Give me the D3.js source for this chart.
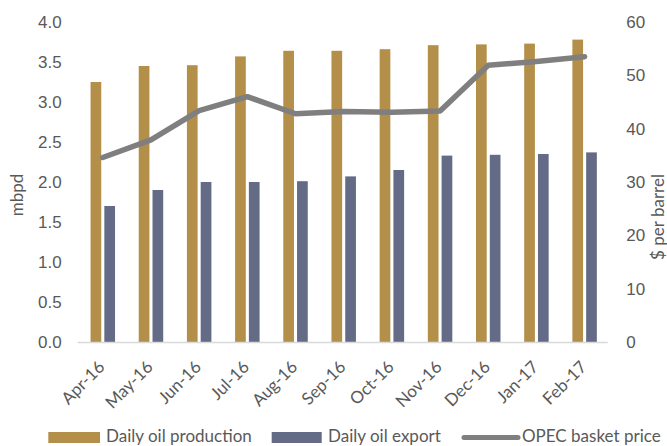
<!DOCTYPE html>
<html>
<head>
<meta charset="utf-8">
<script src="https://cdn.jsdelivr.net/npm/d3@7"></script>
<style>
  html, body { margin: 0; padding: 0; background: #fff; }
  svg { display: block; font-family: Lato, "Open Sans", sans-serif; }
  .tick-label { fill: #595959; font-size: 17px; }
</style>
</head>
<body>
<svg id="chart" width="667" height="446"></svg>
<script>
// Monthly figures, April 2016 to February 2017
const months = ["Apr-16", "May-16", "Jun-16", "Jul-16", "Aug-16", "Sep-16",
                "Oct-16", "Nov-16", "Dec-16", "Jan-17", "Feb-17"];
const production = [3.25, 3.45, 3.46, 3.57, 3.64, 3.64, 3.66, 3.71, 3.72, 3.73, 3.78]; // mbpd
const exports_ = [1.70, 1.90, 2.00, 2.00, 2.01, 2.07, 2.15, 2.33, 2.34, 2.35, 2.37];   // mbpd
const basketPrice = [34.6, 37.9, 43.4, 46.0, 42.8, 43.2, 43.1, 43.3, 51.9, 52.6, 53.5]; // $ per barrel
const leftTicks = [0, 0.5, 1.0, 1.5, 2.0, 2.5, 3.0, 3.5, 4.0];
const rightTicks = [0, 10, 20, 30, 40, 50, 60];

const colors = { production: "#B38F4A", exports: "#636B86", price: "#7F7F7F" };

const svg = d3.select("#chart");
const plot = { left: 78.7, right: 608.7, top: 22, bottom: 342 };

const x = d3.scaleBand().domain(months).range([plot.left, plot.right]);
const yL = d3.scaleLinear().domain([0, 4]).range([plot.bottom, plot.top]);
const yR = d3.scaleLinear().domain([0, 60]).range([plot.bottom, plot.top]);

const bw = x.bandwidth();
const barW = bw * 0.222;
const barGap = bw * 0.064;

// Bars
svg.append("g").selectAll("rect").data(months).join("rect")
  .attr("x", (d) => x(d) + bw / 2 - barGap / 2 - barW)
  .attr("y", (d, i) => yL(production[i]))
  .attr("width", barW)
  .attr("height", (d, i) => yL(0) - yL(production[i]))
  .attr("fill", colors.production);

svg.append("g").selectAll("rect").data(months).join("rect")
  .attr("x", (d) => x(d) + bw / 2 + barGap / 2)
  .attr("y", (d, i) => yL(exports_[i]))
  .attr("width", barW)
  .attr("height", (d, i) => yL(0) - yL(exports_[i]))
  .attr("fill", colors.exports);

// Category axis baseline
svg.append("line")
  .attr("x1", plot.left - 1).attr("x2", plot.right - 1)
  .attr("y1", plot.bottom + 0.5).attr("y2", plot.bottom + 0.5)
  .attr("stroke", "#D9D9D9").attr("stroke-width", 1.5);

// Price line
const line = d3.line()
  .x((d, i) => x(months[i]) + bw / 2)
  .y((d) => yR(d));
svg.append("path")
  .datum(basketPrice)
  .attr("d", line)
  .attr("fill", "none")
  .attr("stroke", colors.price)
  .attr("stroke-width", 5.5)
  .attr("stroke-linejoin", "round")
  .attr("stroke-linecap", "round");

// Left value axis
const axL = svg.append("g").attr("transform", `translate(${plot.left - 17},0)`)
  .call(d3.axisLeft(yL).tickValues(leftTicks).tickFormat(d3.format(".1f")).tickSize(0).tickPadding(0));
axL.select(".domain").remove();
axL.selectAll("text").attr("class", "tick-label").attr("font-family", null).attr("font-size", null);

// Right value axis
const axR = svg.append("g").attr("transform", `translate(${plot.right + 17.5},0)`)
  .call(d3.axisRight(yR).tickValues(rightTicks).tickFormat(d3.format("d")).tickSize(0).tickPadding(0));
axR.select(".domain").remove();
axR.selectAll("text").attr("class", "tick-label").attr("font-family", null).attr("font-size", null);

// Category labels, slanted
svg.append("g").selectAll("text").data(months).join("text")
  .attr("class", "tick-label")
  .attr("text-anchor", "end")
  .attr("transform", (d) => `translate(${x(d) + bw / 2 + 3},368) rotate(-45)`)
  .text((d) => d);

// Axis titles
svg.append("text").attr("class", "tick-label")
  .attr("text-anchor", "middle")
  .attr("transform", "translate(23,195) rotate(-90)")
  .text("mbpd");
svg.append("text").attr("class", "tick-label")
  .attr("text-anchor", "middle")
  .attr("transform", "translate(664,217) rotate(-90)")
  .text("$ per barrel");

// Legend
const legend = svg.append("g");
const legendItems = [
  { label: "Daily oil production", color: colors.production, type: "rect", x: 48.3, w: 51.7, tx: 106 },
  { label: "Daily oil export", color: colors.exports, type: "rect", x: 271.7, w: 50, tx: 328 },
  { label: "OPEC basket price", color: colors.price, type: "line", x: 462, w: 58, tx: 522 }
];
legendItems.forEach((it) => {
  if (it.type === "rect") {
    legend.append("rect").attr("x", it.x).attr("y", 432).attr("width", it.w).attr("height", 11)
      .attr("fill", it.color);
  } else {
    legend.append("line").attr("x1", it.x + 2).attr("x2", it.x + it.w - 2)
      .attr("y1", 437.5).attr("y2", 437.5)
      .attr("stroke", it.color).attr("stroke-width", 5).attr("stroke-linecap", "round");
  }
  legend.append("text").attr("class", "tick-label")
    .attr("x", it.tx).attr("y", 442)
    .text(it.label);
});
</script>
</body>
</html>
